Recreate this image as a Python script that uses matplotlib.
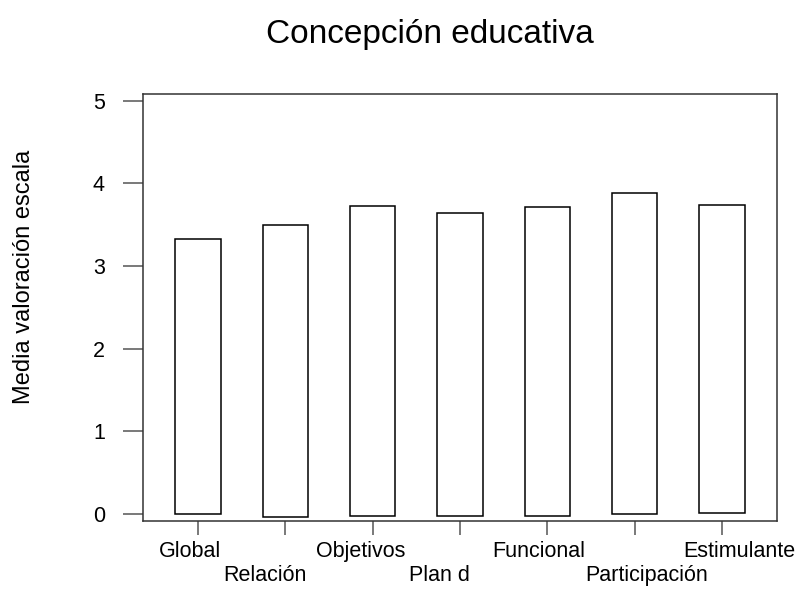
import numpy as np
import matplotlib.pyplot as plt
import matplotlib.transforms as mtransforms

plt.rcParams['font.family'] = ['Liberation Sans', 'DejaVu Sans']

# Datos
categorias = ['Global', 'Relación', 'Objetivos', 'Plan d', 'Funcional',
              'Participación', 'Estimulante']
medias = [3.33, 3.50, 3.72, 3.64, 3.71, 3.88, 3.74]
bases = [0.0, -0.04, -0.02, -0.02, -0.02, 0.0, 0.01]

# ajuste horizontal de las etiquetas (px), como en el original
desplaz_px = [-8, -20, -12, -21, -9, 12, 17]

fig = plt.figure(figsize=(8.01, 5.92), dpi=100)
ax = fig.add_axes([143 / 801, 1 - 521 / 592, (777 - 143) / 801, (521 - 94) / 592])

x = np.arange(len(categorias))
alturas = np.array(medias) - np.array(bases)
ax.bar(x, alturas, bottom=bases, width=0.52, facecolor='white',
       edgecolor='black', linewidth=1.1)

ax.set_xlim(-0.63, 6.63)
ax.set_ylim(-0.085, 5.08)
ax.set_yticks([0, 1, 2, 3, 4, 5])
ax.set_xticks(x)
ax.set_xticklabels(categorias)

for s in ax.spines.values():
    s.set_color('#333333')
    s.set_linewidth(1.1)

ax.tick_params(axis='y', length=14.4, width=1.1, color='#555555', pad=13,
               labelsize=15.5)
ax.tick_params(axis='x', length=10, width=1.1, color='#555555', pad=4.5,
               labelsize=15.5)

for i, lab in enumerate(ax.get_xticklabels()):
    dy = -24 if i % 2 == 1 else 0
    off = mtransforms.ScaledTranslation(desplaz_px[i] / 100, dy / 100,
                                        fig.dpi_scale_trans)
    lab.set_transform(lab.get_transform() + off)

fig.text(430 / 801, 1 - 34 / 592, 'Concepción educativa', fontsize=24,
         ha='center', va='center')
fig.text(24 / 801, 1 - 277 / 592, 'Media valoración escala', fontsize=17,
         rotation=90, ha='center', va='center')

fig.savefig('out.png', dpi=100)
